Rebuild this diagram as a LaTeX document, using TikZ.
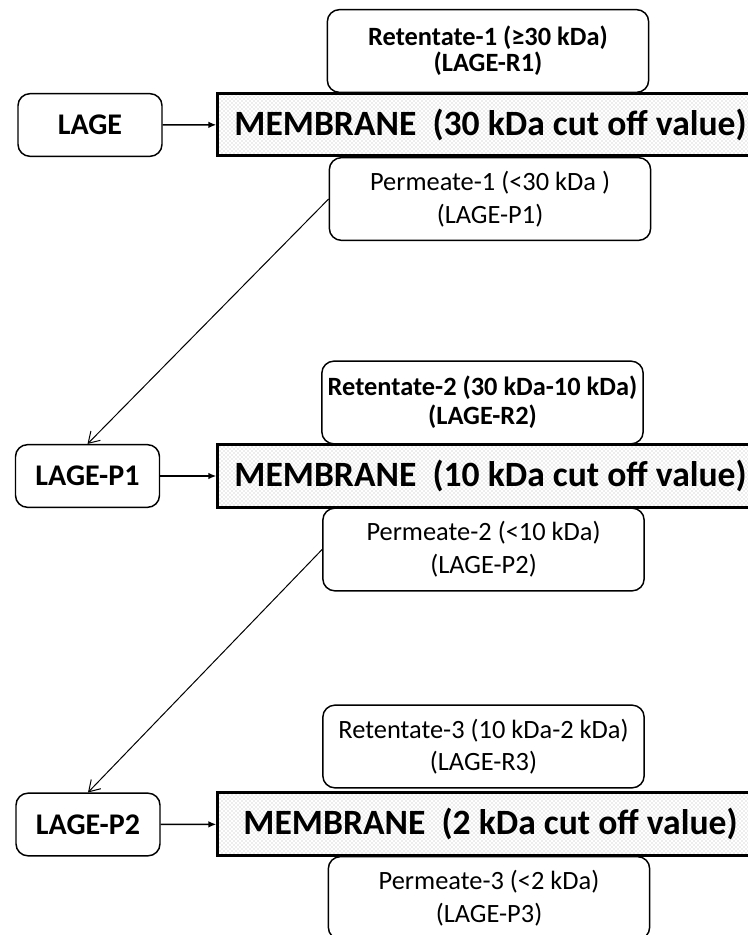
\documentclass[tikz,border=0pt]{standalone}
\usepackage{fontspec}
\setmainfont{Carlito}
\usetikzlibrary{positioning,arrows.meta,patterns}
\tikzset{
  feedbox/.style={draw, rounded corners=9pt, line width=1.1pt, fill=white, minimum width=108pt, minimum height=47pt, inner sep=0pt, font=\fontsize{22.5}{26}\selectfont\bfseries},
  membox/.style={draw, line width=2.2pt, preaction={fill=white}, pattern=crosshatch dots, pattern color=black!30, minimum width=409pt, minimum height=47pt, inner sep=0pt, font=\fontsize{26.7}{30}\selectfont\bfseries},
  fracbox/.style={draw, rounded corners=9pt, line width=1.1pt, fill=white, minimum width=241pt, minimum height=62pt, inner sep=0pt, align=center, font=\fontsize{19.8}{24.5}\selectfont},
  fracbold/.style={fracbox, font=\fontsize{19.8}{22}\selectfont\bfseries},
  feedarrow/.style={-{Latex[length=6pt,width=5pt]}, line width=1.2pt},
  passarrow/.style={-{Straight Barb[length=8pt,width=10pt]}, line width=0.75pt}
}
\begin{document}
\begin{tikzpicture}[x=0.75pt, y=-0.75pt]
  \useasboundingbox (0,0) rectangle (748,935);
  % 30 kDa stage
  \node[membox] (mem30) at (490.5,124.5) {MEMBRANE\ \ (30 kDa cut off value)};
  \node[feedbox] (lage) at (90,125) {LAGE};
  \node[fracbold, font=\fontsize{19.8}{19.5}\selectfont\bfseries] (ret1) at (488,51) {Retentate-1 (≥30 kDa)\\(LAGE-R1)};
  \node[fracbox] (perm1) at (490,199) {Permeate-1 (<30 kDa )\\(LAGE-P1)};
  % 10 kDa stage
  \node[membox] (mem10) at (490.5,476) {MEMBRANE\ \ (10 kDa cut off value)};
  \node[feedbox] (lagep1) at (87.5,476) {LAGE-P1};
  \node[fracbold] (ret2) at (482.5,402.5) {Retentate-2 (30 kDa-10 kDa)\\(LAGE-R2)};
  \node[fracbox] (perm2) at (483.5,549.5) {Permeate-2 (<10 kDa)\\(LAGE-P2)};
  % 2 kDa stage
  \node[membox] (mem2) at (490.5,824) {MEMBRANE\ \ (2 kDa cut off value)};
  \node[feedbox] (lagep2) at (88,824.5) {LAGE-P2};
  \node[fracbox] (ret3) at (483.5,746.5) {Retentate-3 (10 kDa-2 kDa)\\(LAGE-R3)};
  \node[fracbox] (perm3) at (489,898) {Permeate-3 (<2 kDa)\\(LAGE-P3)};
  \draw[feedarrow] (lage) -- (mem30);
  \draw[feedarrow] (lagep1) -- (mem10);
  \draw[feedarrow] (lagep2) -- (mem2);
  \draw[passarrow] (perm1.west) -- (lagep1.north);
  \draw[passarrow] (perm2.west) -- (lagep2.north);
\end{tikzpicture}
\end{document}
